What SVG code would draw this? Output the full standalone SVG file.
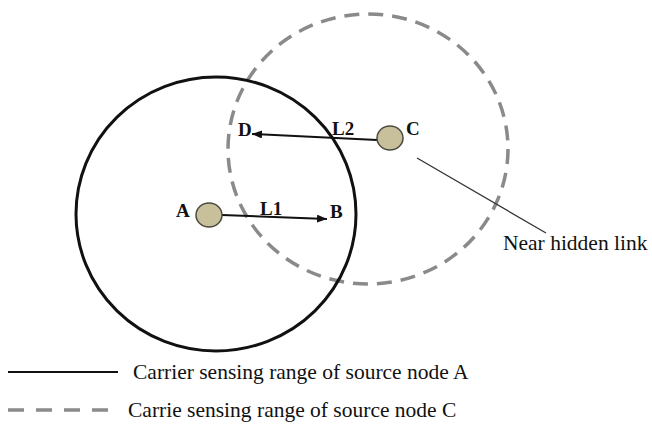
<svg xmlns="http://www.w3.org/2000/svg" width="652" height="424" viewBox="0 0 652 424">
<defs>
<style>
.solid{fill:none;stroke:#111;stroke-width:3}
.dash{fill:none;stroke:#8a8a8a;stroke-width:3.5;stroke-dasharray:15 9}
.node{fill:#c8bf9b;stroke:#4a4a40;stroke-width:1.5}
.link{stroke:#111;stroke-width:2;fill:none}
.lbl{font-family:"Liberation Serif","Times New Roman",serif;font-weight:bold;font-size:19px;fill:#111}
.txt{font-family:"Liberation Serif","Times New Roman",serif;font-size:21.5px;fill:#111}
</style>
<marker id="arr" viewBox="0 0 10 8" refX="10" refY="4" markerWidth="10" markerHeight="8" markerUnits="userSpaceOnUse" orient="auto">
<path d="M0,0 L10,4 L0,8 Z" fill="#111"/>
</marker>
</defs>
<rect width="652" height="424" fill="#fff"/>
<g id="rangeC"><ellipse class="dash" cx="368" cy="149" rx="140" ry="135"/></g>
<g id="rangeA"><ellipse class="solid" cx="216" cy="214" rx="140" ry="137"/></g>
<g id="connectors">
<line class="link" x1="222" y1="215" x2="327" y2="219" marker-end="url(#arr)"/>
<line class="link" x1="377" y1="140" x2="252" y2="134" marker-end="url(#arr)"/>
<line x1="417" y1="158" x2="546" y2="233" stroke="#333" stroke-width="1.3"/>
</g>
<g id="nodeA"><ellipse class="node" cx="209" cy="215" rx="13" ry="12"/><text class="lbl" x="176" y="217">A</text></g>
<g id="nodeC"><ellipse class="node" cx="390" cy="138" rx="13" ry="12"/><text class="lbl" x="406" y="135">C</text></g>
<g id="nodeB"><text class="lbl" x="330" y="218">B</text></g>
<g id="nodeD"><text class="lbl" x="238" y="136">D</text></g>
<g id="labels">
<text class="lbl" x="260" y="215">L1</text>
<text class="lbl" x="332" y="135">L2</text>
<text class="txt" x="503" y="250">Near hidden link</text>
</g>
<g id="legend">
<line x1="8" y1="372" x2="118" y2="372" stroke="#111" stroke-width="2"/>
<text class="txt" x="133" y="379">Carrier sensing range of source node A</text>
<line x1="8" y1="410" x2="112" y2="410" stroke="#8a8a8a" stroke-width="3.5" stroke-dasharray="16 12"/>
<text class="txt" x="128" y="417">Carrie sensing range of source node C</text>
</g>
</svg>
